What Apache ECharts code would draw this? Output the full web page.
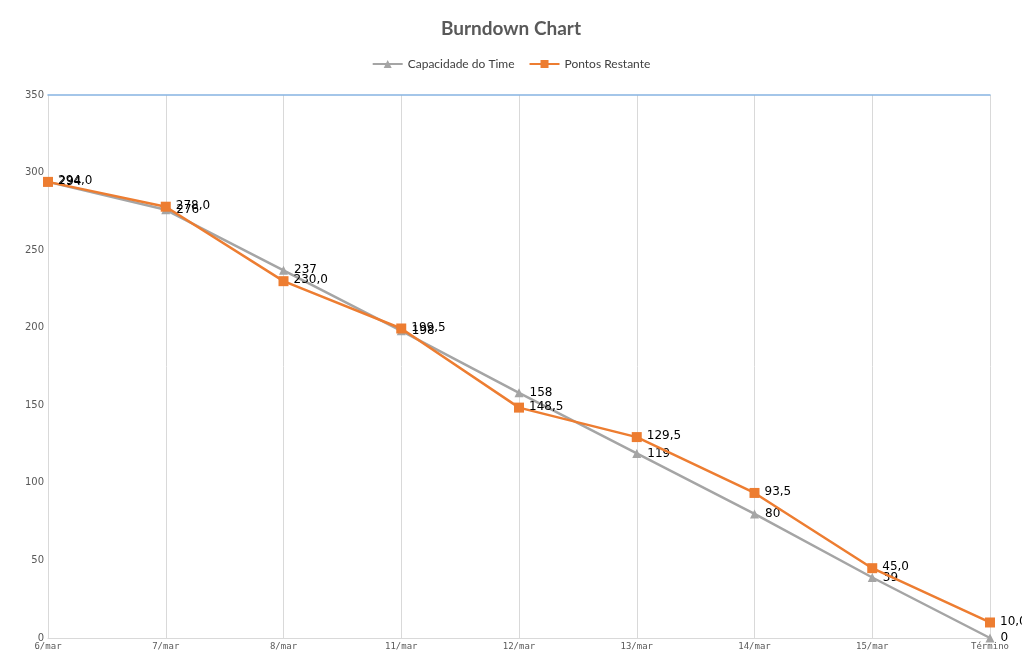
<!DOCTYPE html>
<html><head><meta charset="utf-8">
<script src="https://cdn.jsdelivr.net/npm/echarts@6/dist/echarts.min.js"></script>
<style>html,body{margin:0;padding:0;background:#fff}#c{width:1022px;height:654px}</style>
</head><body><div id="c"></div>
<script>
const categories = ['6/mar','7/mar','8/mar','11/mar','12/mar','13/mar','14/mar','15/mar','Término'];
const capacidade = [294, 276, 237, 198, 158, 119, 80, 39, 0];
const pontos = [294.0, 278.0, 230.0, 199.5, 148.5, 129.5, 93.5, 45.0, 10.0];
const yTicks = [0, 50, 100, 150, 200, 250, 300, 350];

const chart = echarts.init(document.getElementById('c'));
const fmtComma = p => p.value.toFixed(1).replace('.', ',');
chart.setOption({
  animation: false,
  title: {
    text: 'Burndown Chart', left: 'center', top: 14,
    textStyle: { fontFamily: 'Lato', fontSize: 19, fontWeight: 'bold', color: '#595959' }
  },
  legend: {
    top: 53, left: 'center', itemWidth: 30, itemHeight: 10, itemGap: 14,
    textStyle: { fontFamily: 'Lato', fontSize: 12, color: '#404040' },
    data: ['Capacidade do Time', 'Pontos Restante']
  },
  grid: { left: 48, right: 32, top: 95, bottom: 16, containLabel: false },
  xAxis: [{
    type: 'category', data: categories, boundaryGap: false,
    axisLine: { lineStyle: { color: '#d9d9d9' } },
    axisTick: { show: false },
    axisLabel: { fontFamily: 'DejaVu Sans Mono', fontSize: 9, color: '#595959', margin: 4, interval: 0 },
    splitLine: { show: true, lineStyle: { color: '#d9d9d9', width: 1 } }
  }, {
    type: 'category', data: categories, boundaryGap: false, position: 'top',
    axisLine: { show: true, lineStyle: { color: '#86B4E2', width: 1.5 } },
    axisTick: { show: false }, axisLabel: { show: false }, splitLine: { show: false }, z: 5
  }],
  yAxis: {
    type: 'value', min: yTicks[0], max: yTicks[yTicks.length - 1], interval: 50,
    axisLine: { show: true, lineStyle: { color: '#d9d9d9' } },
    axisTick: { show: false },
    axisLabel: { fontFamily: 'DejaVu Sans', fontSize: 10, color: '#595959', margin: 4 },
    splitLine: { show: false }
  },
  series: [
    {
      name: 'Capacidade do Time', type: 'line', data: capacidade,
      symbol: 'triangle', symbolSize: 9,
      lineStyle: { color: '#A5A5A5', width: 2.5 },
      itemStyle: { color: '#A5A5A5' },
      label: { show: true, position: 'right', distance: 6, fontFamily: 'DejaVu Sans', fontSize: 12, color: '#000' },
      z: 2
    },
    {
      name: 'Pontos Restante', type: 'line', data: pontos,
      symbol: 'rect', symbolSize: 10,
      lineStyle: { color: '#ED7D31', width: 2.5 },
      itemStyle: { color: '#ED7D31' },
      label: { show: true, position: 'right', distance: 5, offset: [0, -1], fontFamily: 'DejaVu Sans', fontSize: 12, color: '#000', formatter: fmtComma },
      z: 3
    }
  ]
});
</script></body></html>
